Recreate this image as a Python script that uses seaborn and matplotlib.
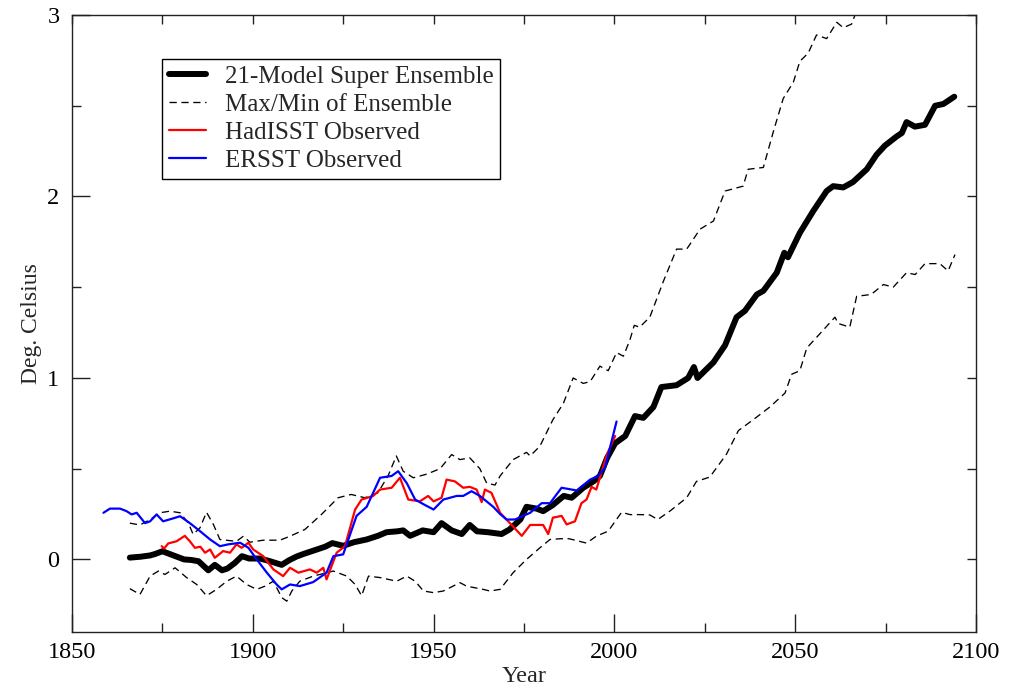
import matplotlib
matplotlib.use("Agg")
import matplotlib.pyplot as plt
from matplotlib.ticker import MultipleLocator
import seaborn as sns

# 21-model super ensemble mean
ens_years = [1866, 1869, 1871.6, 1873, 1875, 1877, 1879, 1881, 1883, 1885, 1887.7, 1889.5,
             1891.5, 1893, 1895, 1897, 1899, 1902, 1904.8, 1908, 1910, 1912, 1914, 1917,
             1920, 1922, 1925, 1928, 1931.5, 1934.6, 1937, 1940, 1941.6, 1943.5, 1947, 1950,
             1952.2, 1955, 1957.8, 1960, 1962, 1965, 1968.8, 1971, 1974, 1975.7, 1978.5,
             1980.3, 1983, 1986, 1988.2, 1991.4, 1994.2, 1996, 1998, 2000.2, 2003, 2005.7,
             2008, 2010.8, 2013, 2017.2, 2020.4, 2022, 2023, 2027.4, 2030.6, 2033.8, 2036.1,
             2039.4, 2041.2, 2044.9, 2047, 2048, 2051.3, 2055, 2058.7, 2060.5, 2063.3, 2066,
             2069.8, 2072.5, 2074.8, 2078, 2079.5, 2080.8, 2083.1, 2085.9, 2088.7, 2091, 2094]
ens_mean = [0.01, 0.015, 0.022, 0.03, 0.045, 0.03, 0.015, 0.0, -0.003, -0.01, -0.06, -0.03,
            -0.06, -0.05, -0.02, 0.018, 0.005, 0.005, -0.01, -0.03, -0.005, 0.015, 0.03, 0.05,
            0.07, 0.09, 0.075, 0.095, 0.11, 0.13, 0.15, 0.155, 0.16, 0.13, 0.16, 0.15,
            0.20, 0.16, 0.14, 0.19, 0.155, 0.15, 0.14, 0.165, 0.22, 0.29, 0.28,
            0.266, 0.30, 0.35, 0.34, 0.395, 0.43, 0.46, 0.56, 0.64, 0.68, 0.79,
            0.78, 0.84, 0.95, 0.96, 1.0, 1.06, 1.0, 1.086, 1.18, 1.335, 1.37,
            1.46, 1.48, 1.58, 1.69, 1.665, 1.80, 1.92, 2.03, 2.057, 2.05, 2.08,
            2.15, 2.23, 2.28, 2.33, 2.35, 2.41, 2.385, 2.395, 2.50, 2.51, 2.55]

# Ensemble maximum
max_years = [1866, 1868.8, 1871.6, 1874.3, 1877.1, 1879.9, 1882.2, 1883.5, 1885.4, 1887.2,
             1889.1, 1890.9, 1893, 1895.5, 1897.4, 1899.2, 1902.9, 1907.5, 1910.3, 1914.4,
             1919, 1923.6, 1927.2, 1931, 1934.6, 1937.4, 1939.7, 1941.6, 1944.4, 1948.1,
             1951.8, 1955, 1957.3, 1960, 1962.8, 1964.7, 1967, 1968.4, 1972, 1975.7, 1976.7,
             1979.4, 1983, 1985.9, 1988.6, 1991.4, 1993.3, 1996, 1998.3, 2000.6, 2002.5,
             2004.3, 2005.5, 2007, 2009.8, 2013.5, 2017.2, 2020, 2023.7, 2027.4, 2030.6,
             2035.6, 2037, 2041.2, 2044, 2046.7, 2049.5, 2051.3, 2053.6, 2055.9, 2058.7,
             2061.5, 2063.3, 2065.6, 2067.5]
ens_max = [0.20, 0.19, 0.22, 0.257, 0.266, 0.257, 0.20, 0.138, 0.174, 0.26,
           0.193, 0.11, 0.105, 0.10, 0.128, 0.095, 0.106, 0.106, 0.128, 0.165,
           0.248, 0.34, 0.358, 0.34, 0.367, 0.46, 0.57, 0.486, 0.45, 0.47,
           0.50, 0.578, 0.55, 0.56, 0.50, 0.42, 0.41, 0.46, 0.55, 0.59, 0.57,
           0.624, 0.77, 0.86, 1.0, 0.97, 0.98, 1.065, 1.04, 1.14, 1.12,
           1.21, 1.29, 1.28, 1.335, 1.53, 1.71, 1.71, 1.82, 1.865, 2.03,
           2.057, 2.15, 2.16, 2.36, 2.54, 2.63, 2.745, 2.79, 2.89, 2.87,
           2.96, 2.93, 2.95, 3.05]

# Ensemble minimum
min_years = [1866, 1868.8, 1871.6, 1873.9, 1875.7, 1878.5, 1881.7, 1884.5, 1887.2, 1890,
             1892.8, 1895.5, 1898.3, 1901.1, 1903.4, 1905.7, 1908, 1909.4, 1910.8, 1913,
             1916.7, 1922.3, 1926, 1928.3, 1930.1, 1932, 1935.2, 1939.8, 1942.6, 1944.9,
             1947.2, 1950, 1952.7, 1957.3, 1959.1, 1963.7, 1965.6, 1968.4, 1972, 1975.7,
             1979.4, 1982.2, 1985, 1987.5, 1992.3, 1995, 1998.3, 2002, 2004.3, 2007,
             2009.8, 2012, 2015.4, 2020, 2022.7, 2026.4, 2031, 2034.3, 2038.4, 2043,
             2047.2, 2049, 2051.3, 2053.2, 2056.9, 2061, 2061.9, 2065.1, 2067, 2071,
             2074.4, 2077.1, 2080.8, 2083.2, 2085.9, 2090, 2092.3, 2094.2]
ens_min = [-0.161, -0.193, -0.092, -0.064, -0.083, -0.046, -0.10, -0.138, -0.20, -0.165,
           -0.12, -0.092, -0.138, -0.165, -0.147, -0.12, -0.21, -0.23, -0.174, -0.12,
           -0.092, -0.064, -0.092, -0.138, -0.20, -0.092, -0.10, -0.12, -0.092, -0.12,
           -0.174, -0.183, -0.174, -0.128, -0.147, -0.165, -0.174, -0.165, -0.073, 0.0,
           0.064, 0.11, 0.114, 0.114, 0.09, 0.128, 0.156, 0.26, 0.247, 0.247,
           0.245, 0.22, 0.267, 0.34, 0.43, 0.454, 0.58, 0.71, 0.77, 0.84,
           0.917, 1.02, 1.04, 1.165, 1.245, 1.335, 1.30, 1.28, 1.45, 1.46,
           1.515, 1.50, 1.58, 1.57, 1.63, 1.63, 1.59, 1.68]

# HadISST observations
had_years = [1874.8, 1875.5, 1876.6, 1878.9, 1881.2, 1882.6, 1884, 1885.5, 1886.8, 1888.2,
             1889.5, 1891.8, 1893.7, 1895.5, 1896.9, 1898.8, 1900.1, 1902.9, 1905.7, 1908.4,
             1910.3, 1912.6, 1915.8, 1917.7, 1919.5, 1920.4, 1923.2, 1925.5, 1928.3, 1930.1,
             1933.3, 1935.2, 1938.4, 1940.7, 1943, 1946.2, 1948.5, 1950, 1952.2, 1953.6,
             1955.9, 1958.2, 1960, 1961.9, 1963.3, 1964.2, 1966, 1968.4, 1971.1, 1974.4,
             1976.7, 1980.3, 1981.7, 1983, 1985.4, 1986.8, 1989.1, 1990.9, 1992.3, 1993.7,
             1995, 1996.4, 1997.8, 2000.2]
had_sst = [0.073, 0.06, 0.088, 0.10, 0.13, 0.10, 0.064, 0.07, 0.037, 0.055,
           0.009, 0.046, 0.037, 0.083, 0.064, 0.092, 0.055, 0.018, -0.055, -0.092,
           -0.046, -0.073, -0.055, -0.073, -0.046, -0.11, 0.037, 0.073, 0.275, 0.33,
           0.35, 0.385, 0.395, 0.45, 0.33, 0.32, 0.35, 0.32, 0.34, 0.44,
           0.43, 0.395, 0.40, 0.385, 0.316, 0.385, 0.367, 0.257, 0.20, 0.13,
           0.19, 0.19, 0.14, 0.23, 0.24, 0.193, 0.21, 0.31, 0.33, 0.40,
           0.385, 0.477, 0.57, 0.68]

# ERSST observations
er_years = [1858.7, 1860.5, 1863.3, 1865.1, 1866.5, 1867.9, 1870.2, 1871.6, 1873.4, 1875.2,
            1877.6, 1879.9, 1882.6, 1885.4, 1888.2, 1890.9, 1893.2, 1896.5, 1898.8, 1901.1,
            1903.9, 1906.6, 1908, 1910.3, 1913, 1916.7, 1920.4, 1922.3, 1925, 1928.7,
            1931.5, 1935.2, 1938.4, 1940.2, 1942.6, 1944.9, 1947.6, 1950, 1952.7, 1956.4,
            1958.2, 1960.5, 1962.8, 1966.5, 1968.4, 1970.2, 1972.5, 1976.7, 1979.9, 1982.2,
            1985.4, 1989.6, 1993.3, 1995.5, 1997.4, 2000.6]
er_sst = [0.257, 0.28, 0.28, 0.266, 0.248, 0.257, 0.20, 0.21, 0.248, 0.21,
          0.224, 0.238, 0.20, 0.156, 0.11, 0.073, 0.083, 0.092, 0.064, 0.0,
          -0.073, -0.138, -0.165, -0.138, -0.147, -0.125, -0.073, 0.018, 0.028, 0.24,
          0.29, 0.45, 0.46, 0.486, 0.42, 0.33, 0.30, 0.275, 0.33, 0.35,
          0.35, 0.376, 0.35, 0.29, 0.25, 0.22, 0.22, 0.257, 0.31, 0.31,
          0.395, 0.38, 0.44, 0.46, 0.505, 0.76]

x_ticks = [1850, 1900, 1950, 2000, 2050, 2100]
y_ticks = [0, 1, 2, 3]

sns.set_style("white")
plt.rcParams["font.family"] = ["Liberation Serif", "DejaVu Serif"]

fig = plt.figure(figsize=(10.21, 6.89), dpi=100)
ax = fig.add_axes([0.0705, 0.0827, 0.8854, 0.8955])

dash = (0, (5.5, 3.5))
sns.lineplot(x=max_years, y=ens_max, ax=ax, color="black", lw=0.95, linestyle=dash,
             label="Max/Min of Ensemble", zorder=2)
sns.lineplot(x=min_years, y=ens_min, ax=ax, color="black", lw=0.95, linestyle=dash,
             zorder=2)
sns.lineplot(x=ens_years, y=ens_mean, ax=ax, color="black", lw=4.3,
             label="21-Model Super Ensemble", zorder=3)
sns.lineplot(x=had_years, y=had_sst, ax=ax, color="#ff0000", lw=1.6,
             label="HadISST Observed", zorder=4)
sns.lineplot(x=er_years, y=er_sst, ax=ax, color="#0000ff", lw=1.6,
             label="ERSST Observed", zorder=5)

ax.set_xlim(1850, 2100)
ax.set_ylim(-0.4, 3)
ax.set_xticks(x_ticks)
ax.set_yticks(y_ticks)
ax.xaxis.set_minor_locator(MultipleLocator(25))
ax.yaxis.set_minor_locator(MultipleLocator(0.5))
ax.tick_params(which="both", direction="in", bottom=True, left=True, top=True, right=True,
               width=1.0, colors="#222222", labelcolor="black")
ax.tick_params(which="major", length=13, labelsize=17.5)
ax.tick_params(which="minor", length=6.5)
ax.tick_params(axis="x", pad=7)
ax.tick_params(axis="y", pad=9)

# major ticks on the top and right edges are as short as the minor ones
for tick in ax.xaxis.get_major_ticks() + ax.yaxis.get_major_ticks():
    tick.tick2line.set_markersize(6.5)

for spine in ax.spines.values():
    spine.set_linewidth(1.0)
    spine.set_color("#222222")

ax.set_xlabel("Year", fontsize=17.5, labelpad=2)
ax.set_ylabel("Deg. Celsius", fontsize=17, labelpad=4)

handles, labels = ax.get_legend_handles_labels()
order = [labels.index(n) for n in ["21-Model Super Ensemble", "Max/Min of Ensemble",
                                     "HadISST Observed", "ERSST Observed"]]
leg = ax.legend([handles[i] for i in order], [labels[i] for i in order],
                loc="upper left", bbox_to_anchor=(0.0996, 0.9287), borderaxespad=0,
                fontsize=18, frameon=True, fancybox=False, edgecolor="black",
                framealpha=1, labelspacing=0.22, handlelength=1.5, handletextpad=0.75,
                borderpad=0.26)
leg.get_frame().set_linewidth(1.0)

fig.savefig("out.png", dpi=100, facecolor="white")
